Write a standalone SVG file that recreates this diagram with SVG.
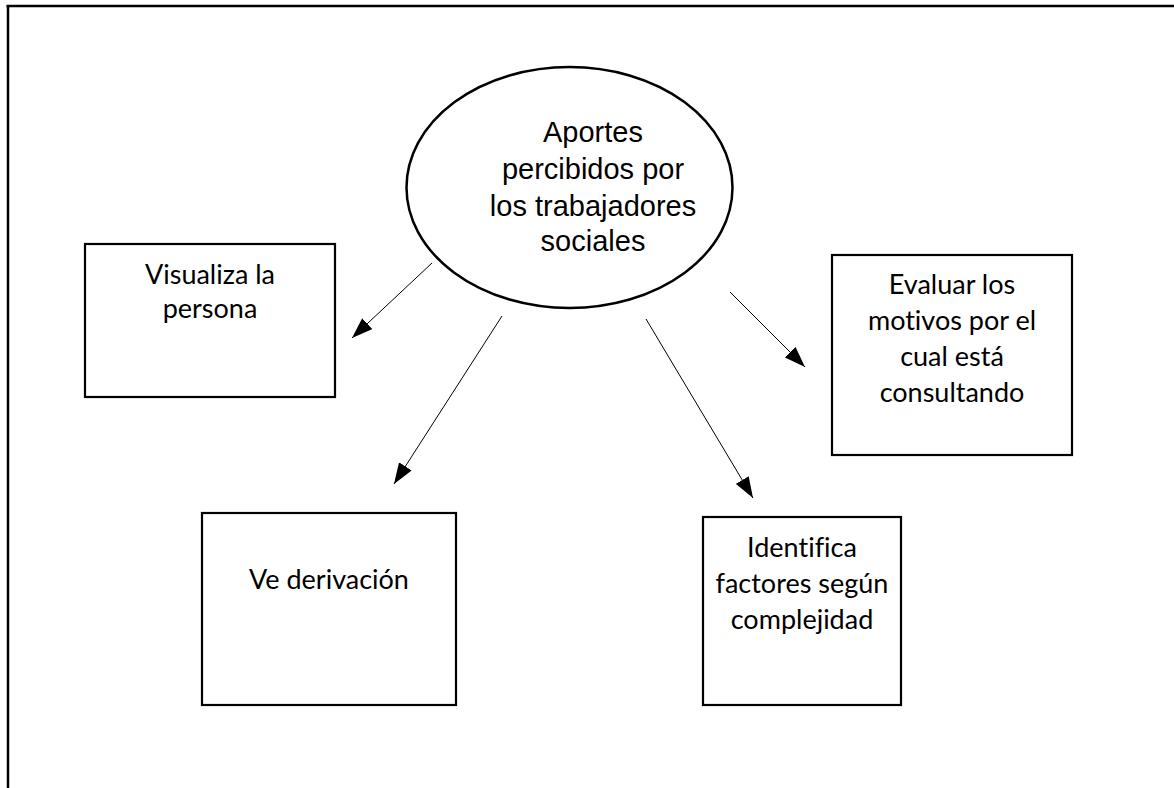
<svg xmlns="http://www.w3.org/2000/svg" width="1174" height="788" viewBox="0 0 1174 788">
<style>
.frame{stroke:#000;stroke-width:2.5;fill:none}
.box{fill:#fff;stroke:#000;stroke-width:2.2}
.conn{stroke:#000;stroke-width:1;fill:none}
.et{font-family:"Liberation Sans",Arial,sans-serif;font-size:29px;fill:#000;text-anchor:middle}
.bt{font-family:Lato,"Open Sans",sans-serif;font-size:27px;fill:#000;text-anchor:middle;font-variant-ligatures:none}
</style>
<defs>
<marker id="ah" markerUnits="userSpaceOnUse" markerWidth="21" markerHeight="15" refX="21" refY="7.5" orient="auto">
<path d="M0,0 L21,7.5 L0,15 z" fill="#000"/>
</marker>
</defs>
<rect width="1174" height="788" fill="#fff"/>
<g id="frame">
<line class="frame" x1="6.5" y1="6" x2="1174" y2="6"/>
<line class="frame" x1="8" y1="5" x2="8" y2="788"/>
</g>
<g id="center">
<ellipse cx="569.5" cy="187.5" rx="163" ry="120.5" fill="#fff" stroke="#000" stroke-width="2.5"/>
<text class="et" x="593" y="142">Aportes</text>
<text class="et" x="593" y="179">percibidos por</text>
<text class="et" x="593" y="216">los trabajadores</text>
<text class="et" x="593" y="251">sociales</text>
</g>
<g id="visualiza">
<rect class="box" x="85" y="244" width="250" height="153"/>
<text class="bt" x="210" y="284">Visualiza la</text>
<text class="bt" x="210" y="318">persona</text>
</g>
<g id="evaluar">
<rect class="box" x="832" y="255" width="240" height="200"/>
<text class="bt" x="952" y="294">Evaluar los</text>
<text class="bt" x="952" y="330">motivos por el</text>
<text class="bt" x="952" y="366">cual está</text>
<text class="bt" x="952" y="402">consultando</text>
</g>
<g id="derivacion">
<rect class="box" x="202" y="513" width="254" height="192"/>
<text class="bt" x="329" y="589">Ve derivación</text>
</g>
<g id="identifica">
<rect class="box" x="703" y="517" width="198" height="188"/>
<text class="bt" x="802" y="557">Identifica</text>
<text class="bt" x="802" y="593">factores según</text>
<text class="bt" x="802" y="629">complejidad</text>
</g>
<g id="connectors">
<line class="conn" x1="432" y1="263" x2="352" y2="338" marker-end="url(#ah)"/>
<line class="conn" x1="502" y1="316" x2="394" y2="484" marker-end="url(#ah)"/>
<line class="conn" x1="646" y1="319" x2="753" y2="498" marker-end="url(#ah)"/>
<line class="conn" x1="730" y1="292" x2="805" y2="367" marker-end="url(#ah)"/>
</g>
</svg>
